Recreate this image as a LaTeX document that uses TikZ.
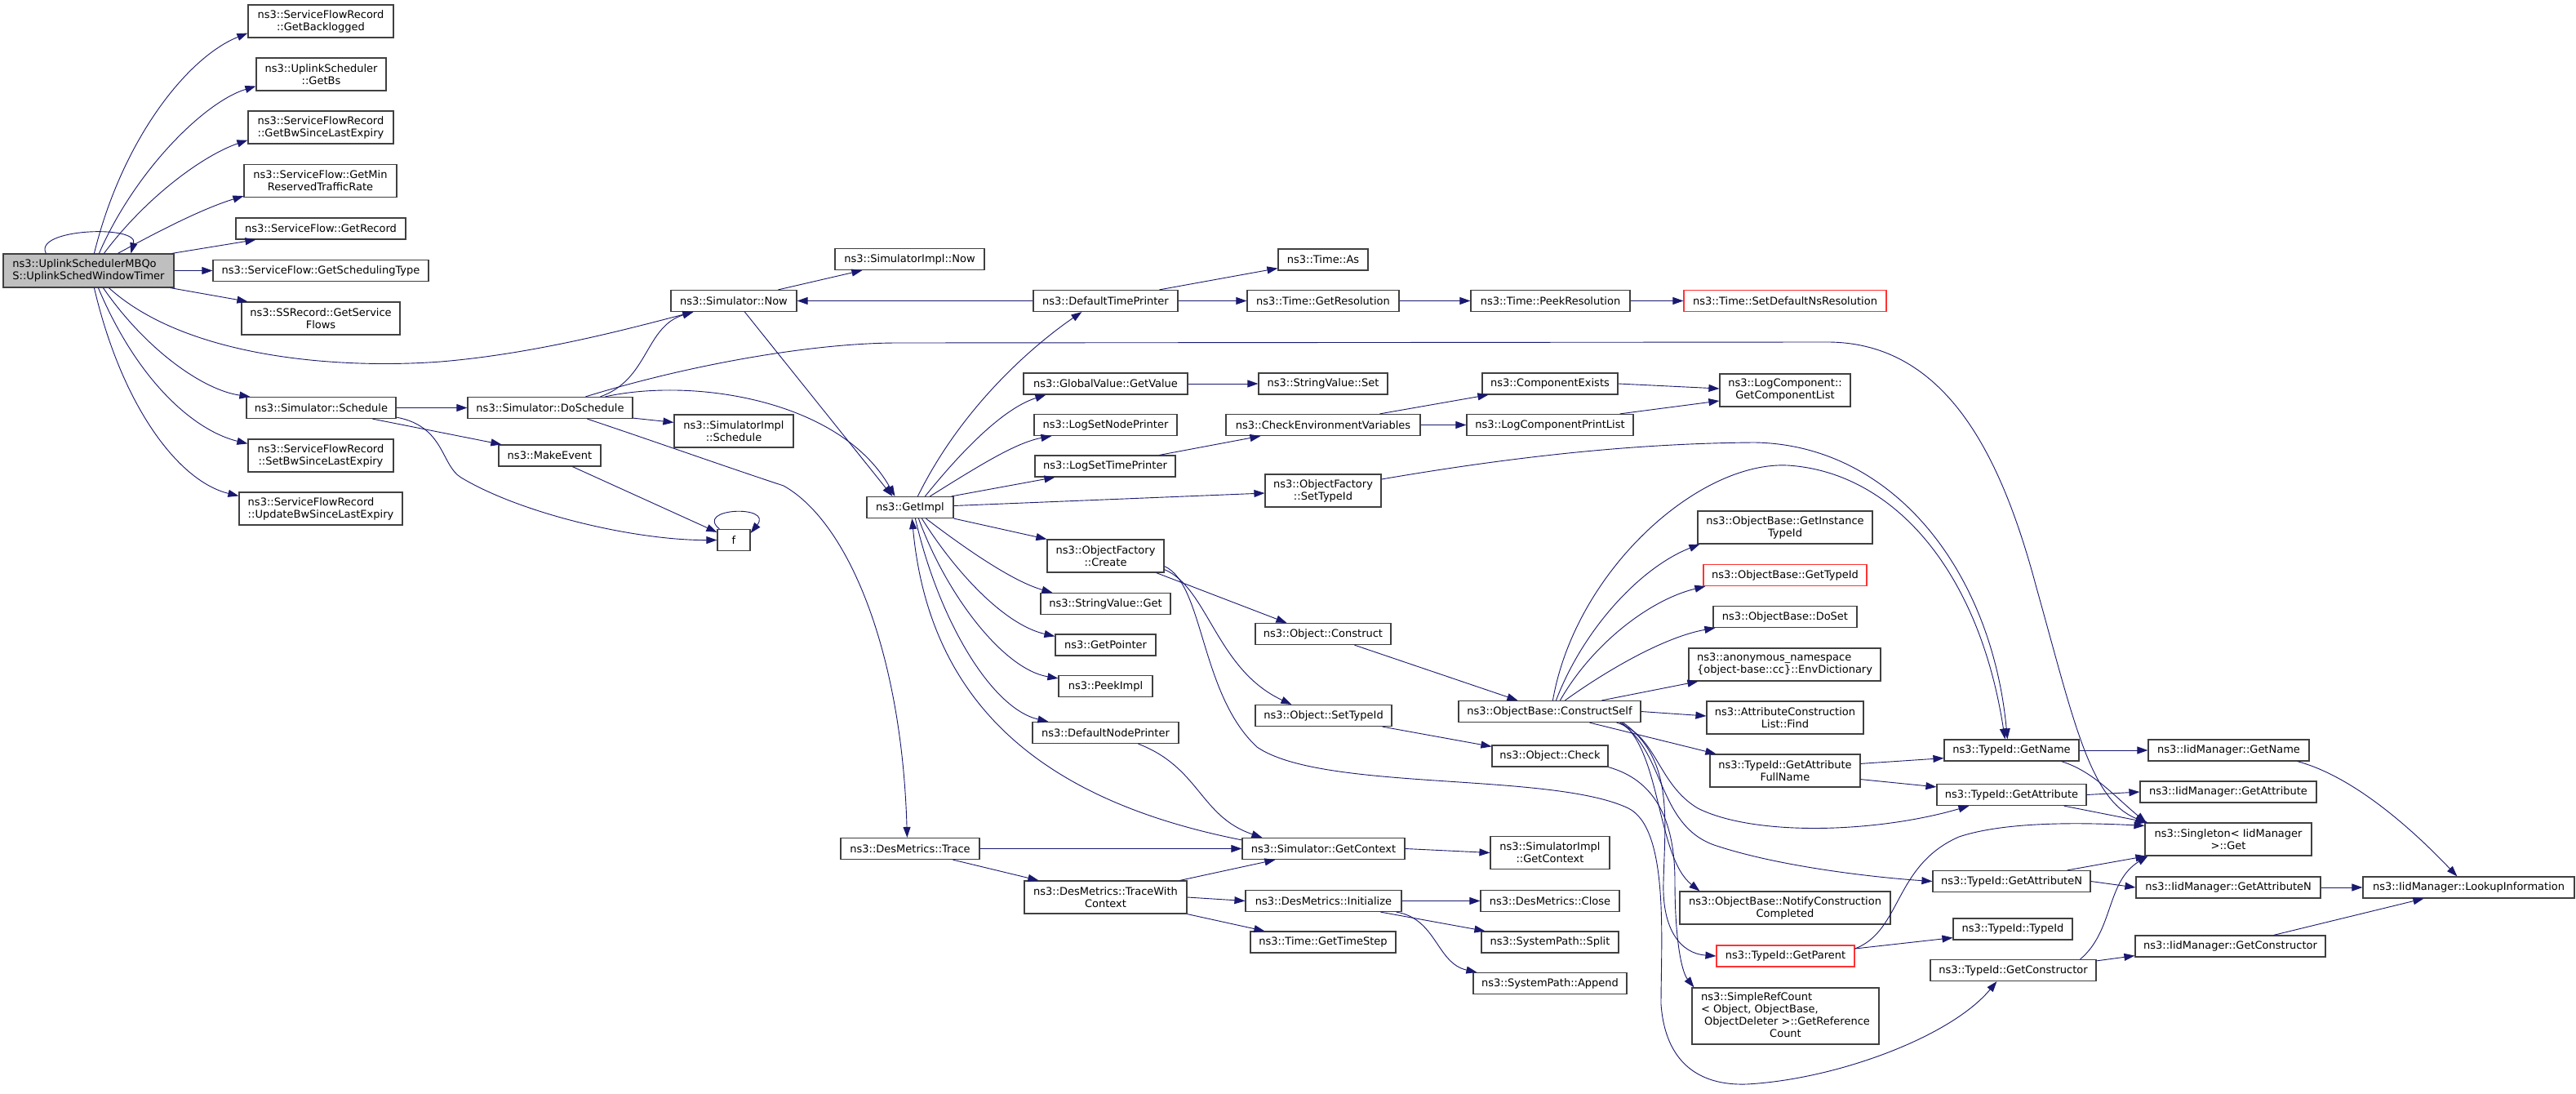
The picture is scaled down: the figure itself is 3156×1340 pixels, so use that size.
\documentclass[tikz,border=0pt]{standalone}
\usepackage{fontspec}
\setmainfont{DejaVu Sans}
\usetikzlibrary{arrows.meta}
\definecolor{edgec}{HTML}{191970}
\definecolor{boxc}{HTML}{404040}
\definecolor{redc}{HTML}{FF3333}
\definecolor{mainc}{HTML}{BFBFBF}
\begin{document}
\begin{tikzpicture}[x=1pt,y=-1pt,
  box/.style={draw=boxc,line width=1.2pt,fill=white,inner sep=0pt,align=center,font=\fontsize{13}{15}\selectfont},
  rbox/.style={box,draw=redc},
  nb/.style 2 args={minimum width=#1pt,minimum height=#2pt},
  ed/.style={draw=edgec,line width=0.9pt,-{Triangle[length=13pt,width=9pt]}}]
\useasboundingbox (0,0) rectangle (3156,1340);
\fill[white] (0,0) rectangle (3156,1340);
% ---------- nodes ----------
\node[box,nb={209}{41},fill=mainc,align=left] (main) at (108.5,331.5) {ns3::UplinkSchedulerMBQo\\S::UplinkSchedWindowTimer};
\node[box,nb={178}{40}] (gbl) at (393,26) {ns3::ServiceFlowRecord\\::GetBacklogged};
\node[box,nb={159}{40}] (gbs) at (393.5,91) {ns3::UplinkScheduler\\::GetBs};
\node[box,nb={178}{40}] (gbw) at (393,156) {ns3::ServiceFlowRecord\\::GetBwSinceLastExpiry};
\node[box,nb={187}{40}] (gmin) at (392.5,221.5) {ns3::ServiceFlow::GetMin\\ReservedTrafficRate};
\node[box,nb={208}{26}] (grec) at (393,280) {ns3::ServiceFlow::GetRecord};
\node[box,nb={264}{26}] (gst) at (393,331.5) {ns3::ServiceFlow::GetSchedulingType};
\node[box,nb={194}{40}] (gsf) at (393,390) {ns3::SSRecord::GetService\\Flows};
\node[box,nb={183}{26}] (sched) at (393.5,499.5) {ns3::Simulator::Schedule};
\node[box,nb={178}{40}] (sbw) at (393,558) {ns3::ServiceFlowRecord\\::SetBwSinceLastExpiry};
\node[box,nb={200}{40},align=left] (ubw) at (393,623) {ns3::ServiceFlowRecord\\::UpdateBwSinceLastExpiry};
\node[box,nb={154}{26}] (now) at (899,368.5) {ns3::Simulator::Now};
\node[box,nb={202}{26}] (dosch) at (674,499.5) {ns3::Simulator::DoSchedule};
\node[box,nb={125}{26}] (mkev) at (673.5,558) {ns3::MakeEvent};
\node[box,nb={40}{26}] (f) at (899,661.5) {f};
\node[box,nb={183}{26}] (simnow) at (1114.5,317.5) {ns3::SimulatorImpl::Now};
\node[box,nb={146}{40}] (simsch) at (899,528) {ns3::SimulatorImpl\\::Schedule};
\node[box,nb={106}{26}] (getimpl) at (1115,621.5) {ns3::GetImpl};
\node[box,nb={170}{26}] (trace) at (1115,1039.5) {ns3::DesMetrics::Trace};
\node[box,nb={177}{26}] (dtp) at (1354.5,368.5) {ns3::DefaultTimePrinter};
\node[box,nb={201}{26}] (gvgv) at (1354.5,470) {ns3::GlobalValue::GetValue};
\node[box,nb={175}{26}] (lsnp) at (1354.5,520.5) {ns3::LogSetNodePrinter};
\node[box,nb={172}{26}] (lstp) at (1354,571) {ns3::LogSetTimePrinter};
\node[box,nb={143}{40}] (ofc) at (1354.5,681) {ns3::ObjectFactory\\::Create};
\node[box,nb={159}{26}] (svg) at (1354.5,739.5) {ns3::StringValue::Get};
\node[box,nb={123}{26}] (gptr) at (1354.5,790) {ns3::GetPointer};
\node[box,nb={115}{26}] (peek) at (1354.5,840.5) {ns3::PeekImpl};
\node[box,nb={179}{26}] (dnp) at (1354.5,897.5) {ns3::DefaultNodePrinter};
\node[box,nb={199}{40}] (twc) at (1354.5,1099) {ns3::DesMetrics::TraceWith\\Context};
\node[box,nb={110}{26}] (tas) at (1621,318) {ns3::Time::As};
\node[box,nb={186}{26}] (tgr) at (1621,368.5) {ns3::Time::GetResolution};
\node[box,nb={158}{26}] (svs) at (1621,470) {ns3::StringValue::Set};
\node[box,nb={238}{26}] (cev) at (1621,520.5) {ns3::CheckEnvironmentVariables};
\node[box,nb={142}{40}] (ofst) at (1621,601) {ns3::ObjectFactory\\::SetTypeId};
\node[box,nb={166}{26}] (ocon) at (1621,776.5) {ns3::Object::Construct};
\node[box,nb={167}{26}] (ostid) at (1621.5,876.5) {ns3::Object::SetTypeId};
\node[box,nb={199}{26}] (sgc) at (1621.5,1039.5) {ns3::Simulator::GetContext};
\node[box,nb={191}{26}] (dmi) at (1621.5,1103.5) {ns3::DesMetrics::Initialize};
\node[box,nb={178}{26}] (tgts) at (1621,1154) {ns3::Time::GetTimeStep};
\node[box,nb={195}{26}] (tpr) at (1899.5,368.5) {ns3::Time::PeekResolution};
\node[box,nb={166}{26}] (cex) at (1899,470) {ns3::ComponentExists};
\node[box,nb={204}{26}] (lcpl) at (1899,520.5) {ns3::LogComponentPrintList};
\node[box,nb={223}{26}] (cself) at (1898.5,871.5) {ns3::ObjectBase::ConstructSelf};
\node[box,nb={142}{26}] (ocheck) at (1899,926) {ns3::Object::Check};
\node[box,nb={146}{40}] (sigc) at (1899,1044.5) {ns3::SimulatorImpl\\::GetContext};
\node[box,nb={170}{26}] (dmc) at (1899,1103.5) {ns3::DesMetrics::Close};
\node[box,nb={168}{26}] (spsplit) at (1899,1154) {ns3::SystemPath::Split};
\node[box,nb={188}{26}] (spapp) at (1899,1204.5) {ns3::SystemPath::Append};
\node[rbox,nb={248}{26}] (sdnr) at (2187,368.5) {ns3::Time::SetDefaultNsResolution};
\node[box,nb={160}{40}] (gcl) at (2187,478) {ns3::LogComponent::\\GetComponentList};
\node[box,nb={214}{40}] (ogit) at (2187,646) {ns3::ObjectBase::GetInstance\\TypeId};
\node[rbox,nb={200}{26}] (ogtid) at (2187,704.5) {ns3::ObjectBase::GetTypeId};
\node[box,nb={176}{26}] (doset) at (2187,755.5) {ns3::ObjectBase::DoSet};
\node[box,nb={235}{40},align=left] (envd) at (2186.5,814) {ns3::anonymous\_namespace\\\{object-base::cc\}::EnvDictionary};
\node[box,nb={192}{40}] (acl) at (2187,879) {ns3::AttributeConstruction\\List::Find};
\node[box,nb={184}{40}] (gafn) at (2187,944) {ns3::TypeId::GetAttribute\\FullName};
\node[box,nb={258}{40}] (ncc) at (2187,1112) {ns3::ObjectBase::NotifyConstruction\\Completed};
\node[rbox,nb={169}{26}] (gpar) at (2187.5,1171) {ns3::TypeId::GetParent};
\node[box,nb={229}{69}] (srefc) at (2187.5,1244.5) {\begin{tabular}{@{}l@{}}ns3::SimpleRefCount\\< Object, ObjectBase,\\\hspace{4pt}ObjectDeleter >::GetReference\\\multicolumn{1}{@{}c@{}}{Count}\end{tabular}};
\node[box,nb={165}{26}] (tgn) at (2464.5,919) {ns3::TypeId::GetName};
\node[box,nb={183}{26}] (tga) at (2464.5,973.5) {ns3::TypeId::GetAttribute};
\node[box,nb={193}{26}] (tgan) at (2464.5,1079.5) {ns3::TypeId::GetAttributeN};
\node[box,nb={146}{26}] (ttid) at (2466,1138) {ns3::TypeId::TypeId};
\node[box,nb={203}{26}] (tgc) at (2466.5,1188.5) {ns3::TypeId::GetConstructor};
\node[box,nb={197}{26}] (ign) at (2730.5,919) {ns3::IidManager::GetName};
\node[box,nb={216}{26}] (iga) at (2730,970) {ns3::IidManager::GetAttribute};
\node[box,nb={204}{40}] (sing) at (2730,1028) {ns3::Singleton< IidManager\\>::Get};
\node[box,nb={226}{26}] (igan) at (2730,1087) {ns3::IidManager::GetAttributeN};
\node[box,nb={233}{26}] (igc) at (2732.5,1159) {ns3::IidManager::GetConstructor};
\node[box,nb={259}{26}] (lookup) at (3024.5,1087) {ns3::IidManager::LookupInformation};
% ---------- edges: main ----------
\draw[ed] ([xshift=112pt]main.north west) .. controls (150,170) and (230,70) .. ([yshift=6pt]gbl.south west);
\draw[ed] ([xshift=118pt]main.north west) .. controls (165,210) and (250,125) .. ([yshift=6pt]gbs.south west);
\draw[ed] ([xshift=124pt]main.north west) .. controls (180,240) and (250,190) .. ([yshift=5pt]gbw.south west);
\draw[ed] ([xshift=141pt]main.north west) .. controls (200,280) and (250,255) .. ([yshift=2pt]gmin.south west);
\draw[ed] ([xshift=-3pt]main.north east) -- ([xshift=25pt]grec.south west);
\draw[ed] (main.east) -- (gst.west);
\draw[ed] ([xshift=-5pt]main.south east) -- ([xshift=8pt]gsf.north west);
\draw[ed] ([xshift=130pt]main.south west) .. controls (230,440) and (420,452) .. (540,443) .. controls (660,433) and (780,400) .. ([xshift=28pt]now.south west);
\draw[ed] ([xshift=123pt]main.south west) .. controls (180,430) and (250,478) .. ([xshift=5pt]sched.north west);
\draw[ed] ([xshift=117pt]main.south west) .. controls (170,470) and (240,528) .. ([yshift=-6pt]sbw.north west);
\draw[ed] ([xshift=112pt]main.south west) .. controls (150,500) and (220,590) .. ([yshift=-5pt]ubw.north west);
\draw[ed] ([xshift=53pt]main.north west) .. controls (40,280) and (170,275) .. ([xshift=157pt]main.north west);
% ---------- Schedule / DoSchedule ----------
\draw[ed] (sched.east) -- (dosch.west);
\draw[ed] ([xshift=155pt]sched.south west) -- ([xshift=4pt]mkev.north west);
\draw[ed] ([yshift=2pt]sched.south east) .. controls (545,522) and (540,570) .. (565,585) .. controls (640,630) and (780,662) .. (f.west);
\draw[ed] ([xshift=163pt]dosch.north west) .. controls (795,465) and (790,400) .. ([xshift=28pt]now.south west);
\draw[ed] ([xshift=145pt]dosch.north west) .. controls (850,445) and (1000,420) .. (1100,420) -- (2240,419) .. controls (2390,420) and (2455,570) .. (2495,720) .. controls (2540,880) and (2560,980) .. ([xshift=2pt]sing.north west);
\draw[ed] ([xshift=169pt]dosch.north west) .. controls (850,462) and (1030,490) .. ([xshift=35pt]getimpl.north west);
\draw[ed] ([yshift=1pt]dosch.south east) -- ([yshift=-10pt]simsch.north west);
\draw[ed] ([xshift=147pt]dosch.south west) .. controls (800,540) and (890,572) .. (960,595) .. controls (1040,640) and (1105,800) .. ([xshift=82pt]trace.north west);
\draw[ed] ([xshift=91pt]mkev.south west) -- ([yshift=-4pt]f.north west);
\draw[ed] ([xshift=3pt]f.north west) .. controls (850,622) and (948,618) .. ([yshift=-5pt]f.north east);
% ---------- Now / DefaultTimePrinter ----------
\draw[ed] ([xshift=132pt]now.north west) -- ([xshift=34pt]simnow.south west);
\draw[ed] ([xshift=91pt]now.south west) -- ([xshift=32pt]getimpl.north west);
\draw[ed] (dtp.west) -- (now.east);
\draw[ed] ([xshift=155pt]dtp.north west) -- ([yshift=3pt]tas.south west);
\draw[ed] (dtp.east) -- (tgr.west);
\draw[ed] (tgr.east) -- (tpr.west);
\draw[ed] (tpr.east) -- (sdnr.west);
% ---------- GetImpl ----------
\draw[ed] ([xshift=63pt]getimpl.north west) .. controls (1180,495) and (1270,420) .. ([xshift=60pt]dtp.south west);
\draw[ed] ([xshift=72pt]getimpl.north west) .. controls (1180,550) and (1230,500) .. ([xshift=28pt]gvgv.south west);
\draw[ed] ([xshift=78pt]getimpl.north west) .. controls (1200,570) and (1245,542) .. ([xshift=22pt]lsnp.south west);
\draw[ed] ([xshift=-3pt]getimpl.north east) -- ([xshift=25pt]lstp.south west);
\draw[ed] ([yshift=2pt]getimpl.east) -- ([yshift=-3pt]ofst.west);
\draw[ed] (getimpl.south east) -- (ofc.north west);
\draw[ed] ([xshift=73pt]getimpl.south west) .. controls (1180,670) and (1240,712) .. ([xshift=15pt]svg.north west);
\draw[ed] ([xshift=68pt]getimpl.south west) .. controls (1170,700) and (1230,765) .. ([yshift=-3pt]gptr.north west);
\draw[ed] ([xshift=64pt]getimpl.south west) .. controls (1160,730) and (1230,820) .. ([yshift=-4pt]peek.north west);
\draw[ed] ([xshift=60pt]getimpl.south west) .. controls (1150,760) and (1215,868) .. ([xshift=20pt]dnp.north west);
\draw[ed] ([yshift=-3pt]sgc.north west) .. controls (1300,985) and (1140,880) .. ([xshift=56pt]getimpl.south west);
% ---------- column 4/5 ----------
\draw[ed] (gvgv.east) -- (svs.west);
\draw[ed] ([xshift=153pt]lstp.north west) -- ([xshift=43pt]cev.south west);
\draw[ed] ([xshift=189pt]cev.north west) -- ([xshift=8pt]cex.south west);
\draw[ed] (cev.east) -- (lcpl.west);
\draw[ed] (cex.east) -- ([yshift=2pt]gcl.west);
\draw[ed] ([xshift=-17pt]lcpl.north east) -- ([yshift=-13pt]gcl.west);
\draw[ed] ([yshift=14pt]ofst.east) .. controls (1850,560) and (2000,543) .. (2150,542) .. controls (2320,545) and (2440,700) .. ([xshift=78pt]tgn.north west);
\draw[ed] ([xshift=-10pt]ofc.south east) -- ([xshift=39pt]ocon.north west);
\draw[ed] ([yshift=4pt]ofc.south east) .. controls (1480,720) and (1490,820) .. ([xshift=45pt]ostid.north west);
\draw[ed] ([yshift=8pt]ofc.south east) .. controls (1475,715) and (1470,850) .. (1540,915) .. controls (1620,970) and (1900,945) .. (1995,990) .. controls (2045,1015) and (2035,1150) .. (2035,1230) .. controls (2040,1300) and (2080,1330) .. (2140,1328) .. controls (2250,1322) and (2390,1270) .. ([xshift=82pt]tgc.south west);
\draw[ed] ([xshift=122pt]ocon.south west) -- ([xshift=73pt]cself.north west);
\draw[ed] ([xshift=-12pt]ostid.south east) -- ([yshift=-2pt]ocheck.north west);
\draw[ed] (ocheck.south east) .. controls (2025,955) and (2052,1000) .. (2052,1080) .. controls (2052,1150) and (2060,1190) .. ([xshift=3pt]srefc.north west);
\draw[ed] (sgc.east) -- (sigc.west);
\draw[ed] ([xshift=130pt]dnp.south west) .. controls (1470,940) and (1470,1000) .. ([xshift=25pt]sgc.north west);
\draw[ed] (trace.east) -- (sgc.west);
\draw[ed] ([xshift=138pt]trace.south west) -- ([xshift=18pt]twc.north west);
\draw[ed] ([xshift=-9pt]twc.north east) -- ([xshift=41pt]sgc.south west);
\draw[ed] (twc.east) -- (dmi.west);
\draw[ed] (twc.south east) -- ([xshift=18pt]tgts.north west);
\draw[ed] (dmi.east) -- (dmc.west);
\draw[ed] ([xshift=166pt]dmi.south west) -- ([xshift=5pt]spsplit.north west);
\draw[ed] ([xshift=-7pt]dmi.south east) .. controls (1760,1125) and (1760,1180) .. ([xshift=5pt]spapp.north west);
% ---------- ConstructSelf ----------
\draw[ed] ([xshift=120pt]cself.north west) .. controls (1940,770) and (2010,695) .. ([xshift=3pt]ogit.south west);
\draw[ed] ([xshift=125pt]cself.north west) .. controls (1950,790) and (2020,735) .. ([xshift=3pt]ogtid.south west);
\draw[ed] ([xshift=131pt]cself.north west) .. controls (1970,820) and (2040,780) .. ([xshift=3pt]doset.south west);
\draw[ed] ([xshift=176pt]cself.north west) -- ([xshift=12pt]envd.south west);
\draw[ed] (cself.east) -- ([yshift=2pt]acl.west);
\draw[ed] ([xshift=161pt]cself.south west) -- ([xshift=8pt]gafn.north west);
\draw[ed] ([xshift=-30pt]cself.south east) .. controls (2030,900) and (2030,960) .. (2080,990) .. controls (2150,1025) and (2300,1020) .. ([xshift=40pt]tga.south west);
\draw[ed] ([xshift=-26pt]cself.south east) .. controls (2040,920) and (2030,1010) .. (2100,1035) .. controls (2180,1062) and (2300,1075) .. (tgan.west);
\draw[ed] ([xshift=-24pt]cself.south east) .. controls (2035,920) and (2030,1050) .. ([xshift=25pt]ncc.north west);
\draw[ed] ([xshift=-22pt]cself.south east) .. controls (2050,930) and (2040,1000) .. (2038,1080) .. controls (2036,1140) and (2060,1168) .. (gpar.west);
\draw[ed] ([xshift=116pt]cself.north west) .. controls (1930,700) and (2080,565) .. (2190,570) .. controls (2320,578) and (2425,700) .. ([xshift=75pt]tgn.north west);
% ---------- TypeId / IidManager ----------
\draw[ed] ([yshift=-12pt]gafn.north east) -- ([yshift=4pt]tgn.south west);
\draw[ed] ([yshift=10pt]gafn.south east) -- ([yshift=-4pt]tga.north west);
\draw[ed] (tgn.east) -- (ign.west);
\draw[ed] ([xshift=-22pt]tgn.south east) .. controls (2565,945) and (2590,975) .. ([xshift=2pt]sing.north west);
\draw[ed] (tga.east) -- (iga.west);
\draw[ed] ([xshift=-28pt]tga.south east) -- ([xshift=4pt]sing.north west);
\draw[ed] ([yshift=9pt]gpar.east) .. controls (2330,1140) and (2320,1060) .. (2400,1025) .. controls (2460,1005) and (2560,1008) .. ([yshift=-4pt]sing.north west);
\draw[ed] ([yshift=9pt]gpar.east) -- ([yshift=3pt]ttid.south west);
\draw[ed] (tgan.east) -- (igan.west);
\draw[ed] ([xshift=-29pt]tgan.north east) -- ([xshift=2pt]sing.south west);
\draw[ed] ([xshift=-20pt]tgc.north east) .. controls (2590,1140) and (2580,1080) .. ([xshift=4pt]sing.south west);
\draw[ed] ([yshift=-2pt]tgc.north east) -- ([yshift=2pt]igc.south west);
\draw[ed] ([xshift=-15pt]ign.south east) .. controls (2880,950) and (2950,1010) .. ([xshift=116pt]lookup.north west);
\draw[ed] (igan.east) -- (lookup.west);
\draw[ed] ([xshift=-64pt]igc.north east) -- ([xshift=75pt]lookup.south west);
\end{tikzpicture}
\end{document}
